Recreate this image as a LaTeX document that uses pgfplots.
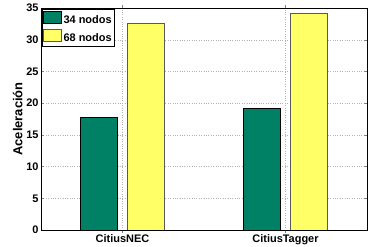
\documentclass[border=0pt]{standalone}
\usepackage{pgfplots}
\pgfplotsset{compat=1.18}
\usepackage{fontspec}
\setmainfont{Liberation Sans}
\usetikzlibrary{calc}
\definecolor{bgreen}{RGB}{0,128,100}
\definecolor{byellow}{RGB}{255,255,102}
\begin{document}
\begin{tikzpicture}
\begin{axis}[
  scale only axis, width=326bp, height=222bp,
  xmin=0.5, xmax=2.5, ymin=0, ymax=35,
  xtick={1,2}, xticklabels={CitiusNEC,CitiusTagger},
  ytick={0,5,...,35},
  tick align=inside, major tick length=3bp,
  xtick pos=both, ytick pos=both,
  grid=major, grid style={dotted, gray!60},
  axis line style={black, line width=0.8pt},
  ylabel={\bfseries Aceleración},
  ylabel style={yshift=-3bp},
  tick label style={font=\fontsize{11}{12}\selectfont\bfseries},
  label style={font=\fontsize{13}{14}\selectfont},
  /pgf/number format/assume math mode=true,
  yticklabel style={xshift=1bp},
  xticklabel style={yshift=2bp},
  ybar, bar width=37bp, bar shift auto, ybar=10bp,
  legend style={at={(0.002,0.996)}, anchor=north west, draw=black, line width=0.8pt,
    font=\fontsize{11}{12}\selectfont\bfseries, inner xsep=1pt, inner ysep=2pt, row sep=2.5bp,
    /tikz/every even column/.append style={column sep=1pt}},
  legend image code/.code={\draw[#1, line width=0.5pt] (0bp,-3.5bp) rectangle (18bp,8.5bp);},
  legend cell align=left,
]
\addplot[fill=bgreen, draw=black, line width=0.6pt] coordinates {(1,17.75) (2,19.17)};
\addplot[fill=byellow, draw=black!65, line width=0.6pt] coordinates {(1,32.63) (2,34.1)};
\legend{34 nodos, 68 nodos}
\end{axis}
\pgfresetboundingbox
\path ($(current axis.south west)+(-41bp,-16.3bp)$) rectangle ($(current axis.north east)+(1bp,8bp)$);
\end{tikzpicture}
\end{document}
